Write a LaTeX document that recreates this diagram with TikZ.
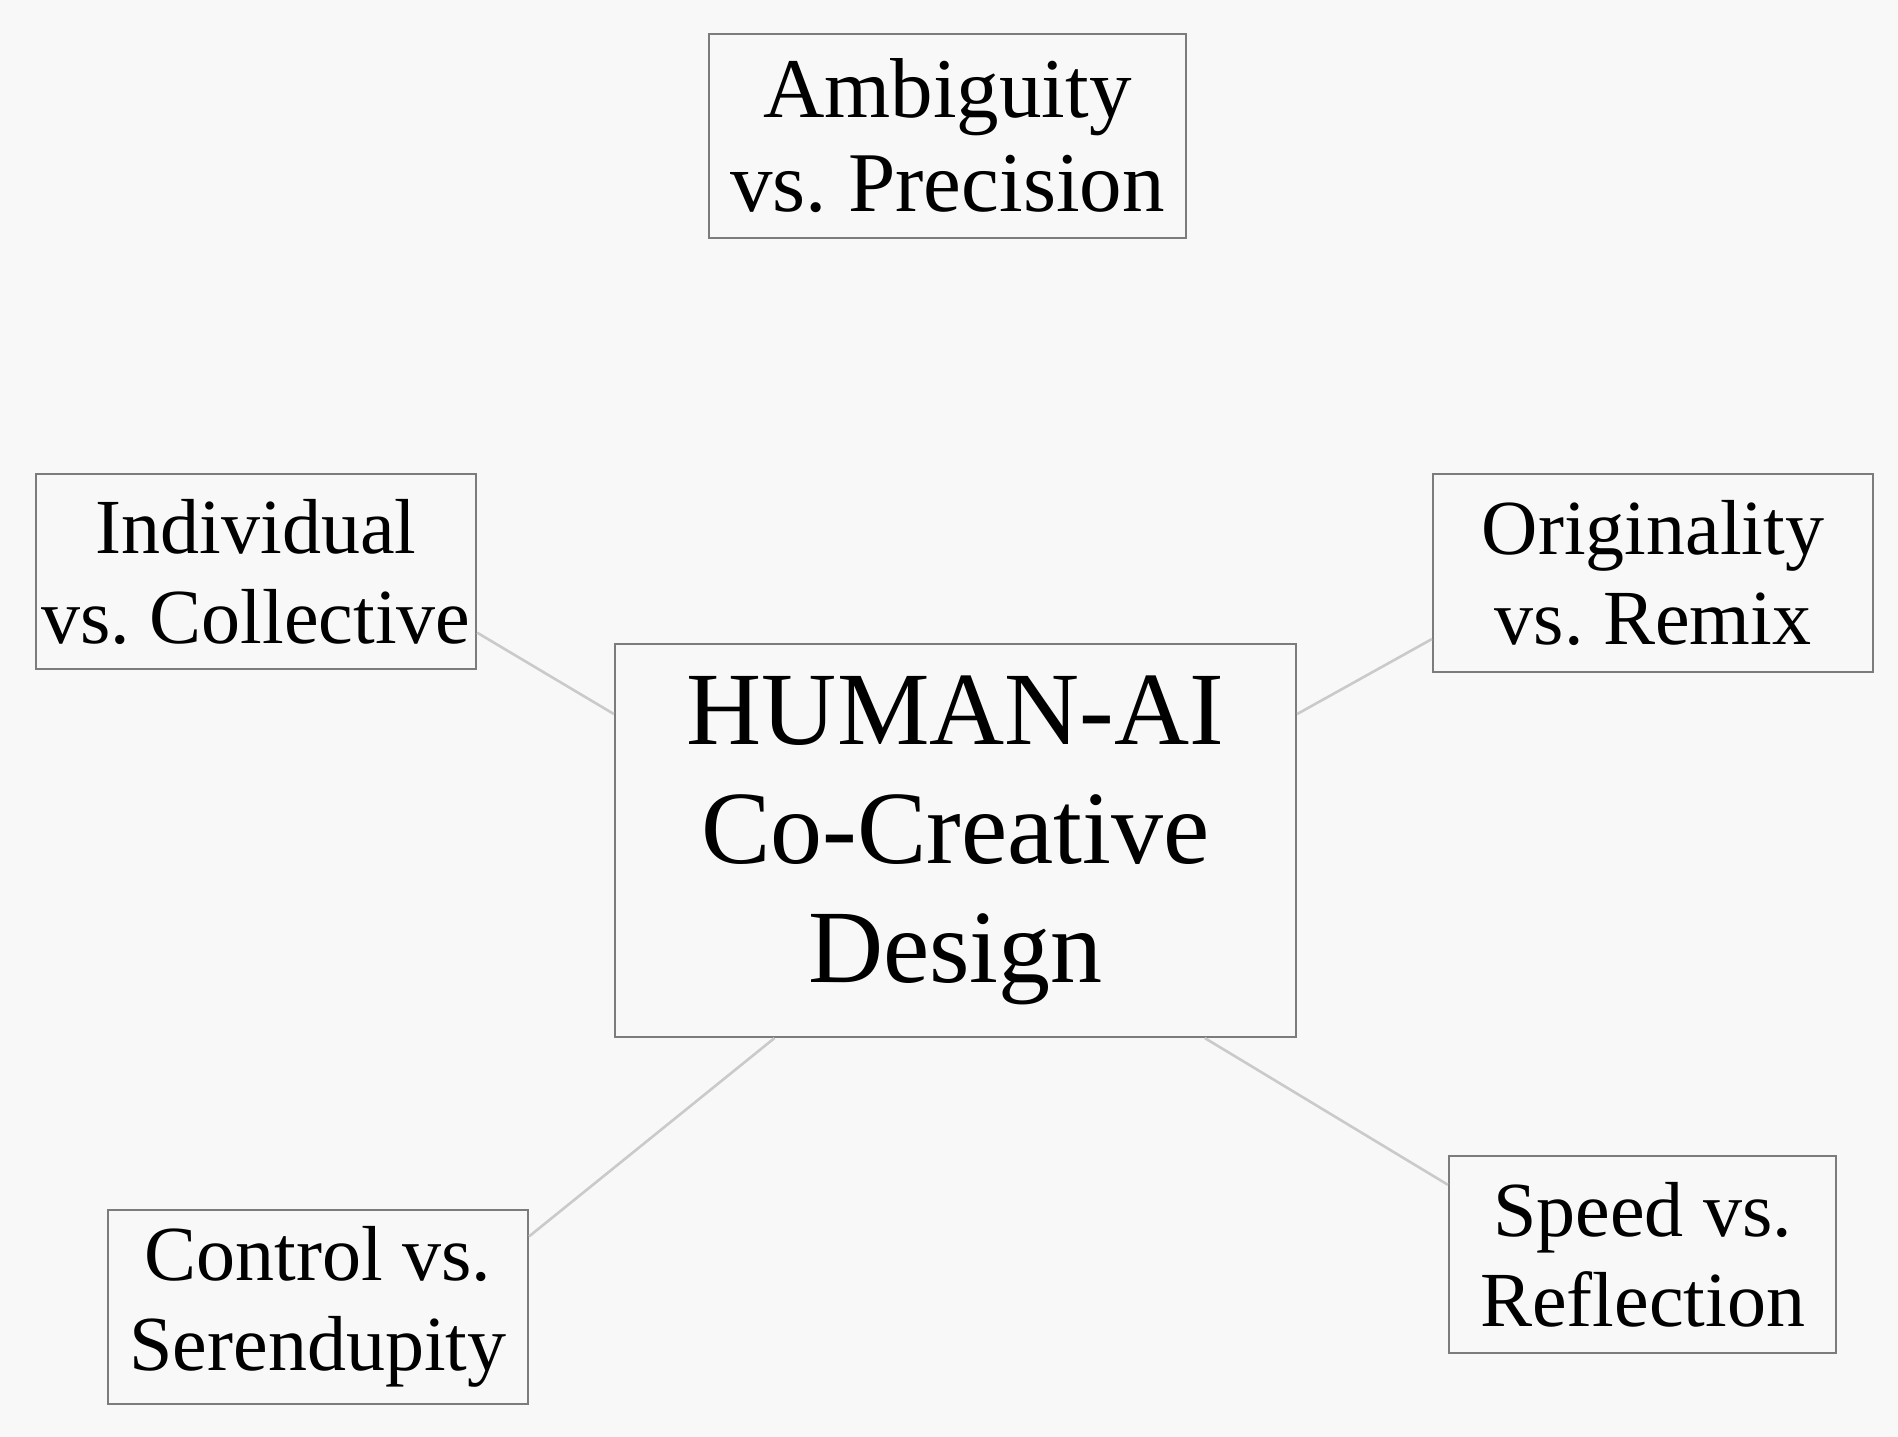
\documentclass[tikz,border=0pt]{standalone}
\usepackage{fontspec}
\setmainfont{Liberation Serif}
\usetikzlibrary{calc}
\definecolor{bg}{HTML}{F8F8F8}
\definecolor{boxline}{HTML}{7C7C7C}
\definecolor{conn}{HTML}{CACACA}
\tikzset{
  xbox/.style={draw=boxline, line width=2.2pt, fill=bg, align=center, inner sep=0pt,
    font=\fontsize{78}{90}\selectfont, text=black},
  cbox/.style={draw=boxline, line width=2.2pt, fill=bg, align=center, inner sep=0pt,
    font=\fontsize{104}{119}\selectfont, text=black},
  link/.style={draw=conn, line width=2.6pt}
}
\begin{document}
\begin{tikzpicture}[x=1pt,y=-1pt]
\fill[bg] (0,0) rectangle (1898,1437);
\useasboundingbox (0,0) rectangle (1898,1437);
\node[xbox, minimum width=477pt, minimum height=204pt, font=\fontsize{85}{94}\selectfont] (amb) at (947.5,136) {Ambiguity\\vs.\ Precision};
\node[xbox, minimum width=440pt, minimum height=195pt] (ind) at (256,571.5) {Individual\\vs.\ Collective};
\node[xbox, minimum width=440pt, minimum height=198pt] (ori) at (1653,573) {Originality\\vs.\ Remix};
\node[cbox, minimum width=681pt, minimum height=393pt] (ctr) at (955.5,840.5) {HUMAN-AI\\Co-Creative\\Design};
\node[xbox, minimum width=420pt, minimum height=194pt] (ctl) at (318,1307) {Control vs.\\Serendupity};
\node[xbox, minimum width=387pt, minimum height=197pt] (spd) at (1642.5,1254.5) {Speed vs.\\Reflection};
\draw[link] ($(ind.north east)!0.81!(ind.south east)$) -- ($(ctr.north west)!0.18!(ctr.south west)$);
\draw[link] ($(ori.north west)!0.83!(ori.south west)$) -- ($(ctr.north east)!0.18!(ctr.south east)$);
\draw[link] ($(ctr.south west)!0.235!(ctr.south east)$) -- ($(ctl.north east)!0.14!(ctl.south east)$);
\draw[link] ($(ctr.south west)!0.865!(ctr.south east)$) -- ($(spd.north west)!0.15!(spd.south west)$);
\end{tikzpicture}
\end{document}
